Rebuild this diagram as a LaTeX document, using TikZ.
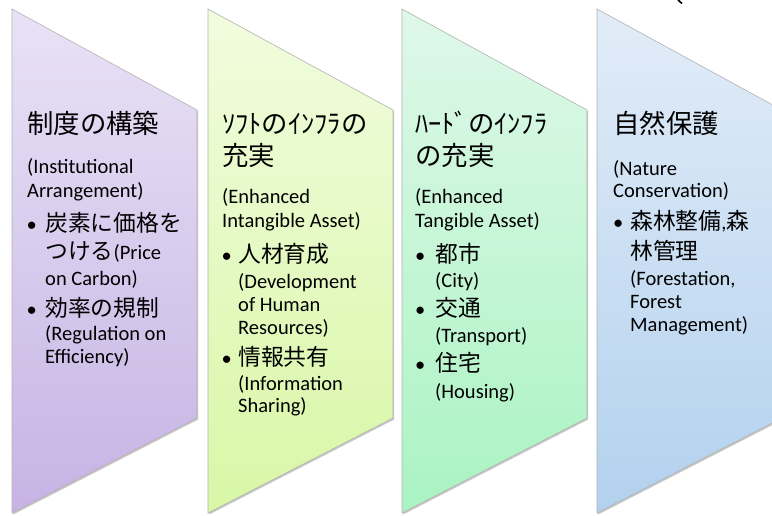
\documentclass[tikz,border=0pt]{standalone}
\usepackage{fontspec}
\setmainfont{Carlito}
\newfontfamily\jpfont{Noto Sans CJK JP}
\newcommand\jbf{\jpfont\fontsize{22.8}{27}\selectfont}
\newcommand\enf{\rmfamily\fontsize{20.5}{24}\selectfont}
\definecolor{puT}{HTML}{E9E2F6}\definecolor{puB}{HTML}{C6B3E4}
\definecolor{ygT}{HTML}{F1FCDE}\definecolor{ygB}{HTML}{D8F7A6}
\definecolor{grT}{HTML}{DFF8E9}\definecolor{grB}{HTML}{AAF3C2}
\definecolor{blT}{HTML}{E2ECF8}\definecolor{blB}{HTML}{B2D1EE}
\tikzset{
  en/.style={anchor=base west, inner sep=0pt, font=\enf},
  jh/.style={anchor=base west, inner sep=0pt, font=\jpfont\fontsize{26.4}{32}\selectfont},
  jb/.style={anchor=base west, inner sep=0pt, font=\jbf},
  bul/.style={anchor=base west, inner sep=0pt, font=\enf},
  panelline/.style={draw=gray!60, line width=0.6pt},
  panelshadow/.style={fill=black, opacity=0.22},
}
\newcommand\panel[3]{%
  \fill[panelshadow] (#1+1.2,10.5) -- (#1+186.2,111.5) -- (#1+186.2,419.5) -- (#1+1.2,514.5) -- cycle;
  \shade[top color=#2, bottom color=#3] (#1,9) -- (#1+185,110) -- (#1+185,418) -- (#1,513) -- cycle;
  \draw[panelline] (#1,9) -- (#1+185,110) -- (#1+185,418) -- (#1,513) -- cycle;
}
\begin{document}
\begin{tikzpicture}[x=1pt,y=-1pt]
\useasboundingbox (0,0) rectangle (772,515);
\begin{scope}
\clip (0,0) rectangle (772,515);
\panel{12}{puT}{puB}
\panel{208}{ygT}{ygB}
\panel{402}{grT}{grB}
\panel{597}{blT}{blB}
\draw[line width=1.6pt] (678,0) -- (682,3.5);
\end{scope}

% panel 1
\node[jh] (a1) at (27,133.5) {制度の構築};
\node[en] (a2) at (27,173) {(Institutional};
\node[en] (a3) at (27,197) {Arrangement)};
\node[bul] (a4b) at (26.5,231) {•};
\node[jb] (a4) at (45,231) {炭素に価格を};
\node[jb] (a5) at (45,259) {つける{\enf(Price}};
\node[en] (a6) at (45,285) {on Carbon)};
\node[bul] (a7b) at (26.5,316) {•};
\node[jb] (a7) at (45,316) {効率の規制};
\node[en] (a8) at (45,340) {(Regulation on};
\node[en] (a9) at (45,363) {Efficiency)};

% panel 2
\node[jh] (b1) at (222,133.5) {ｿﾌﾄのｲﾝﾌﾗの};
\node[jh] (b2) at (222,165.5) {充実};
\node[en] (b3) at (222,203) {(Enhanced};
\node[en] (b4) at (222,227) {Intangible Asset)};
\node[bul] (b5b) at (221.5,262) {•};
\node[jb] (b5) at (238,262) {人材育成};
\node[en] (b6) at (238,288) {(Development};
\node[en] (b7) at (238,311) {of Human};
\node[en] (b8) at (238,334) {Resources)};
\node[bul] (b9b) at (221.5,365) {•};
\node[jb] (b9) at (238,365) {情報共有};
\node[en] (b10) at (238,390) {(Information};
\node[en] (b11) at (238,412) {Sharing)};

% panel 3
\node[jh] (c1) at (415,133.5) {ﾊｰﾄﾞのｲﾝﾌﾗ};
\node[jh] (c2) at (415,165.5) {の充実};
\node[en] (c3) at (415,203) {(Enhanced};
\node[en] (c4) at (415,227) {Tangible Asset)};
\node[bul] (c5b) at (415,262) {•};
\node[jb] (c5) at (435,262) {都市};
\node[en] (c6) at (435,287) {(City)};
\node[bul] (c7b) at (415,316) {•};
\node[jb] (c7) at (435,316) {交通};
\node[en] (c8) at (435,342) {(Transport)};
\node[bul] (c9b) at (415,371) {•};
\node[jb] (c9) at (435,371) {住宅};
\node[en] (c10) at (435,398) {(Housing)};

% panel 4
\node[jh] (d1) at (613,133.5) {自然保護};
\node[en] (d2) at (613,175) {(Nature};
\node[en] (d3) at (613,197) {Conservation)};
\node[bul] (d4b) at (613,229) {•};
\node[jb] (d4) at (630,229) {森林整備{\enf,}森};
\node[jb] (d5) at (630,259) {林管理};
\node[en] (d6) at (630,285) {(Forestation,};
\node[en] (d7) at (630,308) {Forest};
\node[en] (d8) at (630,331) {Management)};
\end{tikzpicture}
\end{document}
